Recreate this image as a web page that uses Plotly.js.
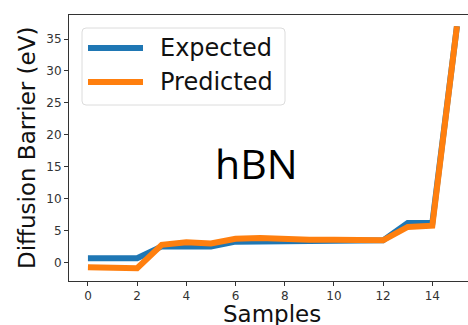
<!DOCTYPE html>
<html><head><meta charset="utf-8">
<script src="https://cdn.plot.ly/plotly-3.0.1.min.js"></script>
<style>html,body{margin:0;padding:0;background:#fff;}#chart{width:468px;height:325px;}</style>
</head><body><div id="chart"></div>
<script>
const samples = [0,1,2,3,4,5,6,7,8,9,10,11,12,13,14,15];
const expected = [0.7,0.7,0.7,2.55,2.6,2.55,3.3,3.3,3.3,3.4,3.4,3.4,3.5,6.2,6.2,37.0];
const predicted = [-0.7,-0.75,-0.85,2.8,3.2,3.0,3.75,3.85,3.65,3.6,3.6,3.55,3.5,5.6,5.8,37.0];
const seriesNames = ["Expected", "Predicted"];
const seriesColors = ["#1f77b4", "#ff7f0e"];
const xTicks = [0,2,4,6,8,10,12,14];
const yTicks = [0,5,10,15,20,25,30,35];

const font = "DejaVu Sans, sans-serif";
const L = 69, R = 468, T = 15, B = 281;
const px = v => (v - L) / (R - L);
const py = v => (B - v) / (B - T);

const traces = [
  {x: samples, y: expected, name: seriesNames[0], mode: "lines", line: {color: seriesColors[0], width: 6}},
  {x: samples, y: predicted, name: seriesNames[1], mode: "lines", line: {color: seriesColors[1], width: 6}}
];

// legend (drawn manually to match sample-line length)
const legY = [48, 82];
const shapes = [
  {type: "path", xref: "paper", yref: "paper",
   path: (() => { const x0=px(82), x1=px(285), y0=py(105), y1=py(28), rx=4/399, ry=4/266;
     return `M${x0+rx},${y0} L${x1-rx},${y0} Q${x1},${y0} ${x1},${y0+ry} L${x1},${y1-ry} Q${x1},${y1} ${x1-rx},${y1} L${x0+rx},${y1} Q${x0},${y1} ${x0},${y1-ry} L${x0},${y0+ry} Q${x0},${y0} ${x0+rx},${y0} Z`; })(),
   fillcolor: "rgba(255,255,255,0.85)", line: {color: "#dcdcdc", width: 1}, layer: "above"}
];
const annotations = [
  {text: "Samples", xref: "paper", yref: "paper", x: px(272), y: 0, yshift: -48, xanchor: "center", yanchor: "bottom",
   showarrow: false, font: {family: font, size: 23, color: "#111"}},
  {text: "Diffusion Barrier (eV)", xref: "paper", yref: "paper", x: 0, xshift: -42, y: 0.5, textangle: -90,
   xanchor: "center", yanchor: "middle", showarrow: false, font: {family: font, size: 23, color: "#111"}},
  {text: "hBN", xref: "paper", yref: "paper", x: px(256), y: py(163), xanchor: "center", yanchor: "middle",
   showarrow: false, font: {family: "Open Sans, sans-serif", size: 41, color: "#000"}}
];
seriesNames.forEach((n, i) => {
  shapes.push({type: "line", xref: "paper", yref: "paper", x0: px(88), x1: px(143), y0: py(legY[i]), y1: py(legY[i]),
    line: {color: seriesColors[i], width: 6}, layer: "above"});
  annotations.push({text: n, xref: "paper", yref: "paper", x: px(158), y: py(legY[i]), xanchor: "left", yanchor: "middle",
    showarrow: false, font: {family: font, size: 24, color: "#111"}});
});

const layout = {
  width: 468, height: 325,
  margin: {l: L, r: 468 - R, t: T, b: 325 - B},
  paper_bgcolor: "#fff", plot_bgcolor: "#fff",
  font: {family: font, color: "#262626"},
  showlegend: false,
  xaxis: {range: [-0.77, 15.45], tickvals: xTicks, ticktext: xTicks.map(String),
    showgrid: false, zeroline: false, showline: true, mirror: true, linecolor: "#333", linewidth: 1,
    ticks: "outside", ticklen: 4, tickcolor: "#333", tickfont: {size: 12, color: "#333"}},
  yaxis: {range: [-2.86, 38.76], tickvals: yTicks, ticktext: yTicks.map(String),
    showgrid: false, zeroline: false, showline: true, linecolor: "#333", linewidth: 1,
    ticks: "outside", ticklen: 4, tickcolor: "#333", tickfont: {size: 12, color: "#333"}},
  shapes: shapes,
  annotations: annotations
};
Plotly.newPlot("chart", traces, layout, {displayModeBar: false, staticPlot: true});
</script></body></html>
